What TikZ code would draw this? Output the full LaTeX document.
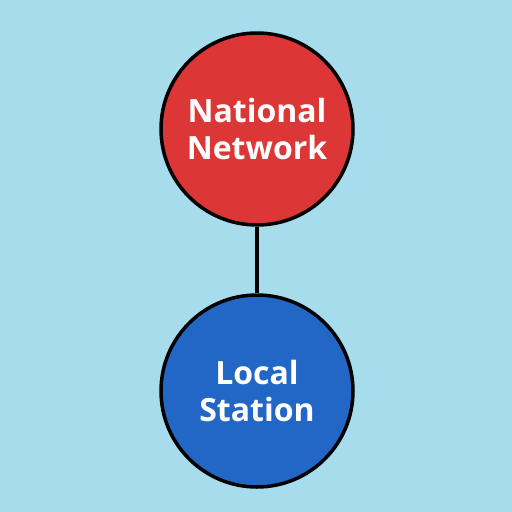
\documentclass[tikz,border=0pt]{standalone}
\usepackage{fontspec}
\setmainfont{Open Sans}
\definecolor{bg}{HTML}{A6DCEB}
\definecolor{redc}{HTML}{DD3636}
\definecolor{bluec}{HTML}{2367C6}
\begin{document}
\begin{tikzpicture}[x=1pt,y=-1pt,
  circ/.style={circle,draw=black,line width=3.5pt,minimum size=192pt,inner sep=0pt,
    text=white,font=\fontsize{32}{37}\selectfont\bfseries,align=center}]
\fill[bg] (0,0) rectangle (512,512);
\useasboundingbox (0,0) rectangle (512,512);
\node[circ,fill=redc] (nat) at (257,129) {National\\Network};
\node[circ,fill=bluec] (loc) at (257,391) {Local\\Station};
\draw[line width=3.5pt] (nat) -- (loc);
\end{tikzpicture}
\end{document}
